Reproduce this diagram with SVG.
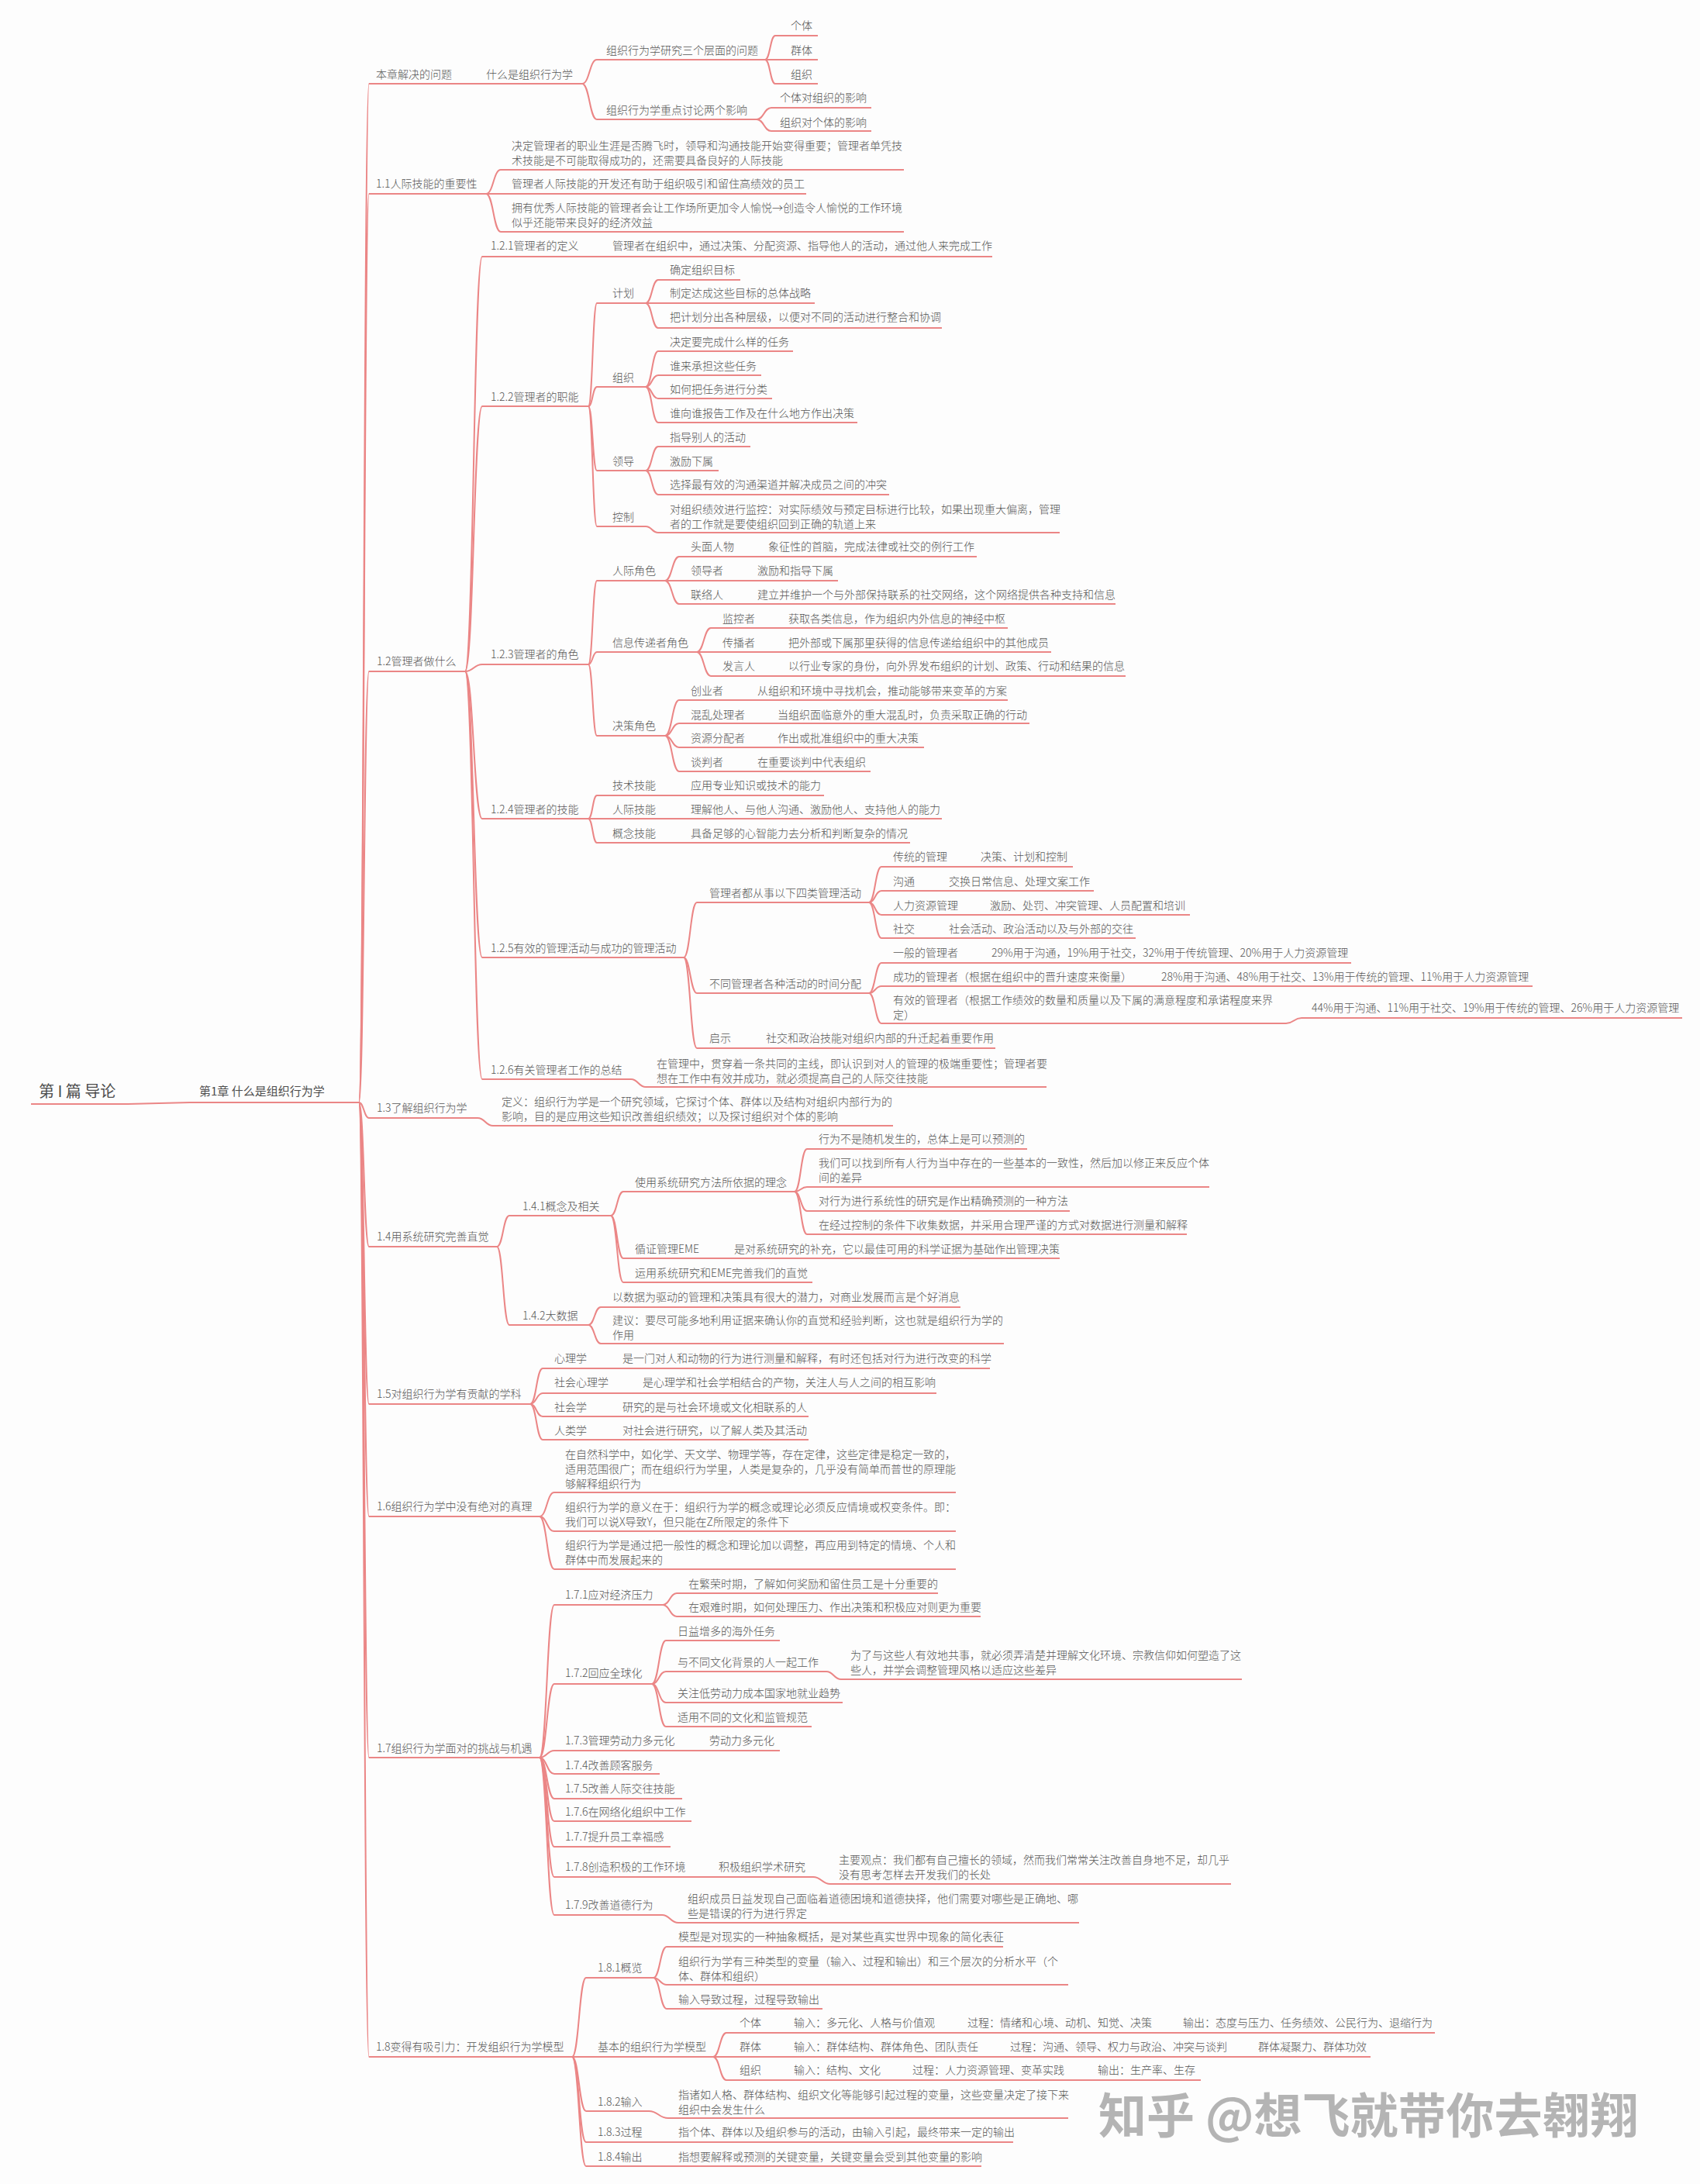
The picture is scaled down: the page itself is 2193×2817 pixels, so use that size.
<svg xmlns="http://www.w3.org/2000/svg" width="2193" height="2817" viewBox="0 0 2193 2817">
<style>
.t{font-family:"Noto Sans CJK SC","Noto Sans",sans-serif;font-size:14px;font-weight:300;fill:#555}
.u{fill:none;stroke:#eb8686;stroke-width:2}
.c{fill:none;stroke:#eb8686;stroke-width:2}
.r{font-family:"Noto Sans CJK SC","Noto Sans",sans-serif;font-size:20px;fill:#4d4d4d}
.h{font-family:"Noto Sans CJK SC","Noto Sans",sans-serif;font-size:15px;fill:#4d4d4d}
.w{font-family:"Noto Sans CJK SC","Noto Sans",sans-serif;font-size:62px;font-weight:bold;fill:#b4b4b4}
</style>
<rect width="2193" height="2817" fill="#fdfdfd"/>
<g id="connectors">
<path class="c" d="M165 1424 L245 1422"/>
<path class="c" d="M463 1422 C469.5 1422 469.5 108 476 108"/>
<path class="c" d="M463 1422 C469.5 1422 469.5 250 476 250"/>
<path class="c" d="M463 1422 C469.5 1422 469.5 866 476 866"/>
<path class="c" d="M463 1422 C469.5 1422 469.5 1442 476 1442"/>
<path class="c" d="M463 1422 C469.5 1422 469.5 1608 476 1608"/>
<path class="c" d="M463 1422 C469.5 1422 469.5 1811 476 1811"/>
<path class="c" d="M463 1422 C469.5 1422 469.5 1956 476 1956"/>
<path class="c" d="M463 1422 C469.5 1422 469.5 2267 476 2267"/>
<path class="c" d="M463 1422 C469.5 1422 469.5 2653 476 2653"/>
<path class="c" d="M614 108 L622 108"/>
<path class="c" d="M751 108 C760.5 108 760.5 77 770 77"/>
<path class="c" d="M751 108 C760.5 108 760.5 154 770 154"/>
<path class="c" d="M987 77 C993.5 77 993.5 46 1000 46"/>
<path class="c" d="M987 77 L1000 77"/>
<path class="c" d="M987 77 C993.5 77 993.5 108 1000 108"/>
<path class="c" d="M976 154 C985.5 154 985.5 139 995 139"/>
<path class="c" d="M976 154 C985.5 154 985.5 169 995 169"/>
<path class="c" d="M627 250 C636.5 250 636.5 219 646 219"/>
<path class="c" d="M627 250 L646 250"/>
<path class="c" d="M627 250 C636.5 250 636.5 299 646 299"/>
<path class="c" d="M600 866 C611 866 611 331 622 331"/>
<path class="c" d="M600 866 C611 866 611 524 622 524"/>
<path class="c" d="M600 866 C611 866 611 857 622 857"/>
<path class="c" d="M600 866 C611 866 611 1056 622 1056"/>
<path class="c" d="M600 866 C611 866 611 1235 622 1235"/>
<path class="c" d="M600 866 C611 866 611 1392 622 1392"/>
<path class="c" d="M772 331 L780 331"/>
<path class="c" d="M759 524 C764.5 524 764.5 391 770 391"/>
<path class="c" d="M759 524 C764.5 524 764.5 499 770 499"/>
<path class="c" d="M759 524 C764.5 524 764.5 607 770 607"/>
<path class="c" d="M759 524 C764.5 524 764.5 679 770 679"/>
<path class="c" d="M833 391 C841 391 841 361 849 361"/>
<path class="c" d="M833 391 L849 391"/>
<path class="c" d="M833 391 C841 391 841 423 849 423"/>
<path class="c" d="M833 499 C841 499 841 453 849 453"/>
<path class="c" d="M833 499 C841 499 841 484 849 484"/>
<path class="c" d="M833 499 C841 499 841 514 849 514"/>
<path class="c" d="M833 499 C841 499 841 545 849 545"/>
<path class="c" d="M833 607 C841 607 841 576 849 576"/>
<path class="c" d="M833 607 L849 607"/>
<path class="c" d="M833 607 C841 607 841 638 849 638"/>
<path class="c" d="M833 679 C841 679 841 687 849 687"/>
<path class="c" d="M759 857 C764.5 857 764.5 749 770 749"/>
<path class="c" d="M759 857 C764.5 857 764.5 841 770 841"/>
<path class="c" d="M759 857 C764.5 857 764.5 949 770 949"/>
<path class="c" d="M858 749 C867 749 867 718 876 718"/>
<path class="c" d="M858 749 L876 749"/>
<path class="c" d="M858 749 C867 749 867 779 876 779"/>
<path class="c" d="M958 718 L968 718"/>
<path class="c" d="M958 749 L968 749"/>
<path class="c" d="M958 779 L968 779"/>
<path class="c" d="M899 841 C908 841 908 810 917 810"/>
<path class="c" d="M899 841 L917 841"/>
<path class="c" d="M899 841 C908 841 908 872 917 872"/>
<path class="c" d="M998 810 L1008 810"/>
<path class="c" d="M998 841 L1008 841"/>
<path class="c" d="M998 872 L1008 872"/>
<path class="c" d="M858 949 C867 949 867 903 876 903"/>
<path class="c" d="M858 949 C867 949 867 933 876 933"/>
<path class="c" d="M858 949 C867 949 867 964 876 964"/>
<path class="c" d="M858 949 C867 949 867 995 876 995"/>
<path class="c" d="M958 903 L968 903"/>
<path class="c" d="M984 933 L994 933"/>
<path class="c" d="M984 964 L994 964"/>
<path class="c" d="M958 995 L968 995"/>
<path class="c" d="M759 1056 C764.5 1056 764.5 1026 770 1026"/>
<path class="c" d="M759 1056 L770 1056"/>
<path class="c" d="M759 1056 C764.5 1056 764.5 1087 770 1087"/>
<path class="c" d="M872 1026 L882 1026"/>
<path class="c" d="M872 1056 L882 1056"/>
<path class="c" d="M872 1087 L882 1087"/>
<path class="c" d="M882 1235 C890.5 1235 890.5 1164 899 1164"/>
<path class="c" d="M882 1235 C890.5 1235 890.5 1281 899 1281"/>
<path class="c" d="M882 1235 C890.5 1235 890.5 1352 899 1352"/>
<path class="c" d="M1121 1164 C1129 1164 1129 1118 1137 1118"/>
<path class="c" d="M1121 1164 C1129 1164 1129 1149 1137 1149"/>
<path class="c" d="M1121 1164 C1129 1164 1129 1180 1137 1180"/>
<path class="c" d="M1121 1164 C1129 1164 1129 1210 1137 1210"/>
<path class="c" d="M1246 1118 L1256 1118"/>
<path class="c" d="M1205 1149 L1215 1149"/>
<path class="c" d="M1258 1180 L1268 1180"/>
<path class="c" d="M1205 1210 L1215 1210"/>
<path class="c" d="M1121 1281 C1129 1281 1129 1242 1137 1242"/>
<path class="c" d="M1121 1281 C1129 1281 1129 1272 1137 1272"/>
<path class="c" d="M1121 1281 C1129 1281 1129 1320 1137 1320"/>
<path class="c" d="M1260 1242 L1270 1242"/>
<path class="c" d="M1479 1272 L1489 1272"/>
<path class="c" d="M1659 1320 C1669 1320 1669 1313 1679 1313"/>
<path class="c" d="M969 1352 L979 1352"/>
<path class="c" d="M814 1392 C823.5 1392 823.5 1402 833 1402"/>
<path class="c" d="M616 1442 C626 1442 626 1452 636 1452"/>
<path class="c" d="M641 1608 C649 1608 649 1568 657 1568"/>
<path class="c" d="M641 1608 C649 1608 649 1709 657 1709"/>
<path class="c" d="M788 1568 C796 1568 796 1537 804 1537"/>
<path class="c" d="M788 1568 C796 1568 796 1623 804 1623"/>
<path class="c" d="M788 1568 C796 1568 796 1654 804 1654"/>
<path class="c" d="M1025 1537 C1033 1537 1033 1482 1041 1482"/>
<path class="c" d="M1025 1537 C1033 1537 1033 1531 1041 1531"/>
<path class="c" d="M1025 1537 C1033 1537 1033 1562 1041 1562"/>
<path class="c" d="M1025 1537 C1033 1537 1033 1592 1041 1592"/>
<path class="c" d="M928 1623 L938 1623"/>
<path class="c" d="M759 1709 C767 1709 767 1686 775 1686"/>
<path class="c" d="M759 1709 C767 1709 767 1733 775 1733"/>
<path class="c" d="M684 1811 C692 1811 692 1765 700 1765"/>
<path class="c" d="M684 1811 C692 1811 692 1797 700 1797"/>
<path class="c" d="M684 1811 C692 1811 692 1827 700 1827"/>
<path class="c" d="M684 1811 C692 1811 692 1857 700 1857"/>
<path class="c" d="M784 1765 L794 1765"/>
<path class="c" d="M810 1797 L820 1797"/>
<path class="c" d="M784 1827 L794 1827"/>
<path class="c" d="M784 1857 L794 1857"/>
<path class="c" d="M696 1956 C705.5 1956 705.5 1925 715 1925"/>
<path class="c" d="M696 1956 C705.5 1956 705.5 1975 715 1975"/>
<path class="c" d="M696 1956 C705.5 1956 705.5 2024 715 2024"/>
<path class="c" d="M696 2267 C705.5 2267 705.5 2070 715 2070"/>
<path class="c" d="M696 2267 C705.5 2267 705.5 2172 715 2172"/>
<path class="c" d="M696 2267 C705.5 2267 705.5 2258 715 2258"/>
<path class="c" d="M696 2267 C705.5 2267 705.5 2288 715 2288"/>
<path class="c" d="M696 2267 C705.5 2267 705.5 2320 715 2320"/>
<path class="c" d="M696 2267 C705.5 2267 705.5 2349 715 2349"/>
<path class="c" d="M696 2267 C705.5 2267 705.5 2382 715 2382"/>
<path class="c" d="M696 2267 C705.5 2267 705.5 2421 715 2421"/>
<path class="c" d="M696 2267 C705.5 2267 705.5 2470 715 2470"/>
<path class="c" d="M855 2070 C864 2070 864 2055 873 2055"/>
<path class="c" d="M855 2070 C864 2070 864 2085 873 2085"/>
<path class="c" d="M841 2172 C850 2172 850 2116 859 2116"/>
<path class="c" d="M841 2172 C850 2172 850 2156 859 2156"/>
<path class="c" d="M841 2172 C850 2172 850 2196 859 2196"/>
<path class="c" d="M841 2172 C850 2172 850 2227 859 2227"/>
<path class="c" d="M1066 2156 C1075.5 2156 1075.5 2166 1085 2166"/>
<path class="c" d="M896 2258 L906 2258"/>
<path class="c" d="M905 2421 L915 2421"/>
<path class="c" d="M1049 2421 C1060 2421 1060 2430 1071 2430"/>
<path class="c" d="M854 2470 C864.5 2470 864.5 2480 875 2480"/>
<path class="c" d="M738 2653 C747 2653 747 2551 756 2551"/>
<path class="c" d="M738 2653 L756 2653"/>
<path class="c" d="M738 2653 C747 2653 747 2723 756 2723"/>
<path class="c" d="M738 2653 C747 2653 747 2763 756 2763"/>
<path class="c" d="M738 2653 C747 2653 747 2794 756 2794"/>
<path class="c" d="M843 2551 C851.5 2551 851.5 2511 860 2511"/>
<path class="c" d="M843 2551 C851.5 2551 851.5 2560 860 2560"/>
<path class="c" d="M843 2551 C851.5 2551 851.5 2591 860 2591"/>
<path class="c" d="M920 2653 C928.5 2653 928.5 2622 937 2622"/>
<path class="c" d="M920 2653 L937 2653"/>
<path class="c" d="M920 2653 C928.5 2653 928.5 2683 937 2683"/>
<path class="c" d="M1002 2622 L1012 2622"/>
<path class="c" d="M1225 2622 L1236 2622"/>
<path class="c" d="M1504 2622 L1514 2622"/>
<path class="c" d="M1002 2653 L1012 2653"/>
<path class="c" d="M1281 2653 L1291 2653"/>
<path class="c" d="M1601 2653 L1611 2653"/>
<path class="c" d="M1002 2683 L1012 2683"/>
<path class="c" d="M1155 2683 L1165 2683"/>
<path class="c" d="M1394 2683 L1404 2683"/>
<path class="c" d="M837 2723 C849.5 2723 849.5 2732 862 2732"/>
<path class="c" d="M837 2763 L862 2763"/>
<path class="c" d="M837 2794 L862 2794"/>
</g>

<g id="root"><path class="u" d="M40 1424 H165"/><text class="r" x="50" y="1415">第 I 篇 导论</text></g>
<g id="ch1"><path class="u" d="M245 1422 H463"/><text class="h" x="257" y="1413">第1章 什么是组织行为学</text></g>

<g id="s0"><path class="u" d="M476 108 H614"/><text class="t" x="485" y="101">本章解决的问题</text></g>
<g id="s0a"><path class="u" d="M622 108 H751"/><text class="t" x="627" y="101">什么是组织行为学</text></g>
<g id="s0a1"><path class="u" d="M770 77 H987"/><text class="t" x="782" y="70">组织行为学研究三个层面的问题</text></g>
<g id="s0a1a"><path class="u" d="M1000 46 H1055"/><text class="t" x="1020" y="38">个体</text></g>
<g id="s0a1b"><path class="u" d="M1000 77 H1055"/><text class="t" x="1020" y="70">群体</text></g>
<g id="s0a1c"><path class="u" d="M1000 108 H1055"/><text class="t" x="1020" y="101">组织</text></g>
<g id="s0a2"><path class="u" d="M770 154 H976"/><text class="t" x="782" y="147">组织行为学重点讨论两个影响</text></g>
<g id="s0a2a"><path class="u" d="M995 139 H1124"/><text class="t" x="1006" y="131">个体对组织的影响</text></g>
<g id="s0a2b"><path class="u" d="M995 169 H1124"/><text class="t" x="1006" y="163">组织对个体的影响</text></g>

<g id="s1"><path class="u" d="M476 250 H627"/><text class="t" x="485" y="242">1.1人际技能的重要性</text></g>
<g id="s1a"><path class="u" d="M646 219 H1166"/><text class="t" x="660" y="193">决定管理者的职业生涯是否腾飞时，领导和沟通技能开始变得重要；管理者单凭技<tspan x="660" dy="19">术技能是不可能取得成功的，还需要具备良好的人际技能</tspan></text></g>
<g id="s1b"><path class="u" d="M646 250 H1040"/><text class="t" x="660" y="242">管理者人际技能的开发还有助于组织吸引和留住高绩效的员工</text></g>
<g id="s1c"><path class="u" d="M646 299 H1166"/><text class="t" x="660" y="273">拥有优秀人际技能的管理者会让工作场所更加令人愉悦→创造令人愉悦的工作环境<tspan x="660" dy="19">似乎还能带来良好的经济效益</tspan></text></g>

<g id="s2"><path class="u" d="M476 866 H600"/><text class="t" x="486" y="858">1.2管理者做什么</text></g>
<g id="s21"><path class="u" d="M622 331 H772"/><text class="t" x="633" y="322">1.2.1管理者的定义</text></g>
<g id="s21a"><path class="u" d="M780 331 H1280"/><text class="t" x="790" y="322">管理者在组织中，通过决策、分配资源、指导他人的活动，通过他人来完成工作</text></g>
<g id="s22"><path class="u" d="M622 524 H759"/><text class="t" x="633" y="517">1.2.2管理者的职能</text></g>
<g id="s22a"><path class="u" d="M770 391 H833"/><text class="t" x="790" y="383">计划</text></g>
<g id="s22a1"><path class="u" d="M849 361 H955"/><text class="t" x="864" y="353">确定组织目标</text></g>
<g id="s22a2"><path class="u" d="M849 391 H1051"/><text class="t" x="864" y="383">制定达成这些目标的总体战略</text></g>
<g id="s22a3"><path class="u" d="M849 423 H1215"/><text class="t" x="864" y="414">把计划分出各种层级，以便对不同的活动进行整合和协调</text></g>
<g id="s22b"><path class="u" d="M770 499 H833"/><text class="t" x="790" y="492">组织</text></g>
<g id="s22b1"><path class="u" d="M849 453 H1023"/><text class="t" x="864" y="446">决定要完成什么样的任务</text></g>
<g id="s22b2"><path class="u" d="M849 484 H982"/><text class="t" x="864" y="477">谁来承担这些任务</text></g>
<g id="s22b3"><path class="u" d="M849 514 H996"/><text class="t" x="864" y="507">如何把任务进行分类</text></g>
<g id="s22b4"><path class="u" d="M849 545 H1106"/><text class="t" x="864" y="538">谁向谁报告工作及在什么地方作出决策</text></g>
<g id="s22c"><path class="u" d="M770 607 H833"/><text class="t" x="790" y="600">领导</text></g>
<g id="s22c1"><path class="u" d="M849 576 H968"/><text class="t" x="864" y="569">指导别人的活动</text></g>
<g id="s22c2"><path class="u" d="M849 607 H927"/><text class="t" x="864" y="600">激励下属</text></g>
<g id="s22c3"><path class="u" d="M849 638 H1147"/><text class="t" x="864" y="630">选择最有效的沟通渠道并解决成员之间的冲突</text></g>
<g id="s22d"><path class="u" d="M770 679 H833"/><text class="t" x="790" y="672">控制</text></g>
<g id="s22d1"><path class="u" d="M849 687 H1367"/><text class="t" x="864" y="662">对组织绩效进行监控：对实际绩效与预定目标进行比较，如果出现重大偏离，管理<tspan x="864" dy="19">者的工作就是要使组织回到正确的轨道上来</tspan></text></g>

<g id="s23"><path class="u" d="M622 857 H759"/><text class="t" x="633" y="849">1.2.3管理者的角色</text></g>
<g id="s23a"><path class="u" d="M770 749 H858"/><text class="t" x="790" y="741">人际角色</text></g>
<g id="s23a1"><path class="u" d="M876 718 H958"/><text class="t" x="891" y="710">头面人物</text></g>
<g id="s23a1x"><path class="u" d="M968 718 H1260"/><text class="t" x="991" y="710">象征性的首脑，完成法律或社交的例行工作</text></g>
<g id="s23a2"><path class="u" d="M876 749 H958"/><text class="t" x="891" y="741">领导者</text></g>
<g id="s23a2x"><path class="u" d="M968 749 H1081"/><text class="t" x="977" y="741">激励和指导下属</text></g>
<g id="s23a3"><path class="u" d="M876 779 H958"/><text class="t" x="891" y="772">联络人</text></g>
<g id="s23a3x"><path class="u" d="M968 779 H1439"/><text class="t" x="977" y="772">建立并维护一个与外部保持联系的社交网络，这个网络提供各种支持和信息</text></g>
<g id="s23b"><path class="u" d="M770 841 H899"/><text class="t" x="790" y="834">信息传递者角色</text></g>
<g id="s23b1"><path class="u" d="M917 810 H998"/><text class="t" x="932" y="803">监控者</text></g>
<g id="s23b1x"><path class="u" d="M1008 810 H1300"/><text class="t" x="1017" y="803">获取各类信息，作为组织内外信息的神经中枢</text></g>
<g id="s23b2"><path class="u" d="M917 841 H998"/><text class="t" x="932" y="834">传播者</text></g>
<g id="s23b2x"><path class="u" d="M1008 841 H1356"/><text class="t" x="1017" y="834">把外部或下属那里获得的信息传递给组织中的其他成员</text></g>
<g id="s23b3"><path class="u" d="M917 872 H998"/><text class="t" x="932" y="864">发言人</text></g>
<g id="s23b3x"><path class="u" d="M1008 872 H1452"/><text class="t" x="1017" y="864">以行业专家的身份，向外界发布组织的计划、政策、行动和结果的信息</text></g>
<g id="s23c"><path class="u" d="M770 949 H858"/><text class="t" x="790" y="941">决策角色</text></g>
<g id="s23c1"><path class="u" d="M876 903 H958"/><text class="t" x="891" y="896">创业者</text></g>
<g id="s23c1x"><path class="u" d="M968 903 H1300"/><text class="t" x="977" y="896">从组织和环境中寻找机会，推动能够带来变革的方案</text></g>
<g id="s23c2"><path class="u" d="M876 933 H984"/><text class="t" x="891" y="927">混乱处理者</text></g>
<g id="s23c2x"><path class="u" d="M994 933 H1328"/><text class="t" x="1003" y="927">当组织面临意外的重大混乱时，负责采取正确的行动</text></g>
<g id="s23c3"><path class="u" d="M876 964 H984"/><text class="t" x="891" y="957">资源分配者</text></g>
<g id="s23c3x"><path class="u" d="M994 964 H1192"/><text class="t" x="1003" y="957">作出或批准组织中的重大决策</text></g>
<g id="s23c4"><path class="u" d="M876 995 H958"/><text class="t" x="891" y="988">谈判者</text></g>
<g id="s23c4x"><path class="u" d="M968 995 H1123"/><text class="t" x="977" y="988">在重要谈判中代表组织</text></g>

<g id="s24"><path class="u" d="M622 1056 H759"/><text class="t" x="633" y="1049">1.2.4管理者的技能</text></g>
<g id="s24a"><path class="u" d="M770 1026 H872"/><text class="t" x="790" y="1018">技术技能</text></g>
<g id="s24ax"><path class="u" d="M882 1026 H1063"/><text class="t" x="891" y="1018">应用专业知识或技术的能力</text></g>
<g id="s24b"><path class="u" d="M770 1056 H872"/><text class="t" x="790" y="1049">人际技能</text></g>
<g id="s24bx"><path class="u" d="M882 1056 H1215"/><text class="t" x="891" y="1049">理解他人、与他人沟通、激励他人、支持他人的能力</text></g>
<g id="s24c"><path class="u" d="M770 1087 H872"/><text class="t" x="790" y="1080">概念技能</text></g>
<g id="s24cx"><path class="u" d="M882 1087 H1174"/><text class="t" x="891" y="1080">具备足够的心智能力去分析和判断复杂的情况</text></g>

<g id="s25"><path class="u" d="M622 1235 H882"/><text class="t" x="633" y="1228">1.2.5有效的管理活动与成功的管理活动</text></g>
<g id="s25a"><path class="u" d="M899 1164 H1121"/><text class="t" x="915" y="1157">管理者都从事以下四类管理活动</text></g>
<g id="s25a1"><path class="u" d="M1137 1118 H1246"/><text class="t" x="1152" y="1110">传统的管理</text></g>
<g id="s25a1x"><path class="u" d="M1256 1118 H1384"/><text class="t" x="1265" y="1110">决策、计划和控制</text></g>
<g id="s25a2"><path class="u" d="M1137 1149 H1205"/><text class="t" x="1152" y="1142">沟通</text></g>
<g id="s25a2x"><path class="u" d="M1215 1149 H1411"/><text class="t" x="1224" y="1142">交换日常信息、处理文案工作</text></g>
<g id="s25a3"><path class="u" d="M1137 1180 H1258"/><text class="t" x="1152" y="1173">人力资源管理</text></g>
<g id="s25a3x"><path class="u" d="M1268 1180 H1535"/><text class="t" x="1277" y="1173">激励、处罚、冲突管理、人员配置和培训</text></g>
<g id="s25a4"><path class="u" d="M1137 1210 H1205"/><text class="t" x="1152" y="1203">社交</text></g>
<g id="s25a4x"><path class="u" d="M1215 1210 H1465"/><text class="t" x="1224" y="1203">社会活动、政治活动以及与外部的交往</text></g>
<g id="s25b"><path class="u" d="M899 1281 H1121"/><text class="t" x="915" y="1274">不同管理者各种活动的时间分配</text></g>
<g id="s25b1"><path class="u" d="M1137 1242 H1260"/><text class="t" x="1152" y="1234">一般的管理者</text></g>
<g id="s25b1x"><path class="u" d="M1270 1242 H1743"/><text class="t" x="1279" y="1234">29%用于沟通，19%用于社交，32%用于传统管理、20%用于人力资源管理</text></g>
<g id="s25b2"><path class="u" d="M1137 1272 H1479"/><text class="t" x="1152" y="1265">成功的管理者（根据在组织中的晋升速度来衡量）</text></g>
<g id="s25b2x"><path class="u" d="M1489 1272 H1977"/><text class="t" x="1498" y="1265">28%用于沟通、48%用于社交、13%用于传统的管理、11%用于人力资源管理</text></g>
<g id="s25b3"><path class="u" d="M1137 1320 H1659"/><text class="t" x="1152" y="1295">有效的管理者（根据工作绩效的数量和质量以及下属的满意程度和承诺程度来界<tspan x="1152" dy="19">定）</tspan></text></g>
<g id="s25b3x"><path class="u" d="M1679 1313 H2170"/><text class="t" x="1692" y="1305">44%用于沟通、11%用于社交、19%用于传统的管理、26%用于人力资源管理</text></g>
<g id="s25c"><path class="u" d="M899 1352 H969"/><text class="t" x="915" y="1344">启示</text></g>
<g id="s25cx"><path class="u" d="M979 1352 H1284"/><text class="t" x="988" y="1344">社交和政治技能对组织内部的升迁起着重要作用</text></g>
<g id="s26"><path class="u" d="M622 1392 H814"/><text class="t" x="633" y="1385">1.2.6有关管理者工作的总结</text></g>
<g id="s26a"><path class="u" d="M833 1402 H1350"/><text class="t" x="847" y="1377">在管理中，贯穿着一条共同的主线，即认识到对人的管理的极端重要性；管理者要<tspan x="847" dy="19">想在工作中有效并成功，就必须提高自己的人际交往技能</tspan></text></g>

<g id="s3"><path class="u" d="M476 1442 H616"/><text class="t" x="486" y="1434">1.3了解组织行为学</text></g>
<g id="s3a"><path class="u" d="M636 1452 H1152"/><text class="t" x="647" y="1426">定义：组织行为学是一个研究领域，它探讨个体、群体以及结构对组织内部行为的<tspan x="647" dy="19">影响，目的是应用这些知识改善组织绩效；以及探讨组织对个体的影响</tspan></text></g>

<g id="s4"><path class="u" d="M476 1608 H641"/><text class="t" x="486" y="1600">1.4用系统研究完善直觉</text></g>
<g id="s41"><path class="u" d="M657 1568 H788"/><text class="t" x="674" y="1561">1.4.1概念及相关</text></g>
<g id="s41a"><path class="u" d="M804 1537 H1025"/><text class="t" x="819" y="1530">使用系统研究方法所依据的理念</text></g>
<g id="s41a1"><path class="u" d="M1041 1482 H1325"/><text class="t" x="1056" y="1474">行为不是随机发生的，总体上是可以预测的</text></g>
<g id="s41a2"><path class="u" d="M1041 1531 H1560"/><text class="t" x="1056" y="1505">我们可以找到所有人行为当中存在的一些基本的一致性，然后加以修正来反应个体<tspan x="1056" dy="19">间的差异</tspan></text></g>
<g id="s41a3"><path class="u" d="M1041 1562 H1380"/><text class="t" x="1056" y="1554">对行为进行系统性的研究是作出精确预测的一种方法</text></g>
<g id="s41a4"><path class="u" d="M1041 1592 H1531"/><text class="t" x="1056" y="1585">在经过控制的条件下收集数据，并采用合理严谨的方式对数据进行测量和解释</text></g>
<g id="s41b"><path class="u" d="M804 1623 H928"/><text class="t" x="819" y="1616">循证管理EME</text></g>
<g id="s41bx"><path class="u" d="M938 1623 H1367"/><text class="t" x="947" y="1616">是对系统研究的补充，它以最佳可用的科学证据为基础作出管理决策</text></g>
<g id="s41c"><path class="u" d="M804 1654 H1048"/><text class="t" x="819" y="1647">运用系统研究和EME完善我们的直觉</text></g>
<g id="s42"><path class="u" d="M657 1709 H759"/><text class="t" x="674" y="1702">1.4.2大数据</text></g>
<g id="s42a"><path class="u" d="M775 1686 H1239"/><text class="t" x="790" y="1678">以数据为驱动的管理和决策具有很大的潜力，对商业发展而言是个好消息</text></g>
<g id="s42b"><path class="u" d="M775 1733 H1295"/><text class="t" x="790" y="1708">建议：要尽可能多地利用证据来确认你的直觉和经验判断，这也就是组织行为学的<tspan x="790" dy="19">作用</tspan></text></g>

<g id="s5"><path class="u" d="M476 1811 H684"/><text class="t" x="486" y="1803">1.5对组织行为学有贡献的学科</text></g>
<g id="s5a"><path class="u" d="M700 1765 H784"/><text class="t" x="715" y="1757">心理学</text></g>
<g id="s5ax"><path class="u" d="M794 1765 H1277"/><text class="t" x="803" y="1757">是一门对人和动物的行为进行测量和解释，有时还包括对行为进行改变的科学</text></g>
<g id="s5b"><path class="u" d="M700 1797 H810"/><text class="t" x="715" y="1788">社会心理学</text></g>
<g id="s5bx"><path class="u" d="M820 1797 H1208"/><text class="t" x="829" y="1788">是心理学和社会学相结合的产物，关注人与人之间的相互影响</text></g>
<g id="s5c"><path class="u" d="M700 1827 H784"/><text class="t" x="715" y="1820">社会学</text></g>
<g id="s5cx"><path class="u" d="M794 1827 H1043"/><text class="t" x="803" y="1820">研究的是与社会环境或文化相联系的人</text></g>
<g id="s5d"><path class="u" d="M700 1857 H784"/><text class="t" x="715" y="1850">人类学</text></g>
<g id="s5dx"><path class="u" d="M794 1857 H1043"/><text class="t" x="803" y="1850">对社会进行研究，以了解人类及其活动</text></g>

<g id="s6"><path class="u" d="M476 1956 H696"/><text class="t" x="486" y="1948">1.6组织行为学中没有绝对的真理</text></g>
<g id="s6a"><path class="u" d="M715 1925 H1233"/><text class="t" x="729" y="1881">在自然科学中，如化学、天文学、物理学等，存在定律，这些定律是稳定一致的，<tspan x="729" dy="19">适用范围很广；而在组织行为学里，人类是复杂的，几乎没有简单而普世的原理能</tspan><tspan x="729" dy="19">够解释组织行为</tspan></text></g>
<g id="s6b"><path class="u" d="M715 1975 H1233"/><text class="t" x="729" y="1949">组织行为学的意义在于：组织行为学的概念或理论必须反应情境或权变条件。即：<tspan x="729" dy="19">我们可以说X导致Y，但只能在Z所限定的条件下</tspan></text></g>
<g id="s6c"><path class="u" d="M715 2024 H1233"/><text class="t" x="729" y="1998">组织行为学是通过把一般性的概念和理论加以调整，再应用到特定的情境、个人和<tspan x="729" dy="19">群体中而发展起来的</tspan></text></g>

<g id="s7"><path class="u" d="M476 2267 H696"/><text class="t" x="486" y="2260">1.7组织行为学面对的挑战与机遇</text></g>
<g id="s71"><path class="u" d="M715 2070 H855"/><text class="t" x="729" y="2062">1.7.1应对经济压力</text></g>
<g id="s71a"><path class="u" d="M873 2055 H1210"/><text class="t" x="888" y="2048">在繁荣时期，了解如何奖励和留住员工是十分重要的</text></g>
<g id="s71b"><path class="u" d="M873 2085 H1265"/><text class="t" x="888" y="2078">在艰难时期，如何处理压力、作出决策和积极应对则更为重要</text></g>
<g id="s72"><path class="u" d="M715 2172 H841"/><text class="t" x="729" y="2163">1.7.2回应全球化</text></g>
<g id="s72a"><path class="u" d="M859 2116 H1006"/><text class="t" x="874" y="2109">日益增多的海外任务</text></g>
<g id="s72b"><path class="u" d="M859 2156 H1066"/><text class="t" x="874" y="2149">与不同文化背景的人一起工作</text></g>
<g id="s72b1"><path class="u" d="M1085 2166 H1602"/><text class="t" x="1097" y="2140">为了与这些人有效地共事，就必须弄清楚并理解文化环境、宗教信仰如何塑造了这<tspan x="1097" dy="19">些人，并学会调整管理风格以适应这些差异</tspan></text></g>
<g id="s72c"><path class="u" d="M859 2196 H1087"/><text class="t" x="874" y="2189">关注低劳动力成本国家地就业趋势</text></g>
<g id="s72d"><path class="u" d="M859 2227 H1047"/><text class="t" x="874" y="2220">适用不同的文化和监管规范</text></g>
<g id="s73"><path class="u" d="M715 2258 H896"/><text class="t" x="729" y="2250">1.7.3管理劳动力多元化</text></g>
<g id="s73a"><path class="u" d="M906 2258 H1006"/><text class="t" x="915" y="2250">劳动力多元化</text></g>
<g id="s74"><path class="u" d="M715 2288 H851"/><text class="t" x="729" y="2282">1.7.4改善顾客服务</text></g>
<g id="s75"><path class="u" d="M715 2320 H880"/><text class="t" x="729" y="2312">1.7.5改善人际交往技能</text></g>
<g id="s76"><path class="u" d="M715 2349 H892"/><text class="t" x="729" y="2342">1.7.6在网络化组织中工作</text></g>
<g id="s77"><path class="u" d="M715 2382 H865"/><text class="t" x="729" y="2374">1.7.7提升员工幸福感</text></g>
<g id="s78"><path class="u" d="M715 2421 H905"/><text class="t" x="729" y="2413">1.7.8创造积极的工作环境</text></g>
<g id="s78a"><path class="u" d="M915 2421 H1049"/><text class="t" x="927" y="2413">积极组织学术研究</text></g>
<g id="s78b"><path class="u" d="M1071 2430 H1588"/><text class="t" x="1082" y="2404">主要观点：我们都有自己擅长的领域，然而我们常常关注改善自身地不足，却几乎<tspan x="1082" dy="19">没有思考怎样去开发我们的长处</tspan></text></g>
<g id="s79"><path class="u" d="M715 2470 H854"/><text class="t" x="729" y="2462">1.7.9改善道德行为</text></g>
<g id="s79a"><path class="u" d="M875 2480 H1392"/><text class="t" x="887" y="2454">组织成员日益发现自己面临着道德困境和道德抉择，他们需要对哪些是正确地、哪<tspan x="887" dy="19">些是错误的行为进行界定</tspan></text></g>

<g id="s8"><path class="u" d="M476 2653 H738"/><text class="t" x="485" y="2645">1.8变得有吸引力：开发组织行为学模型</text></g>
<g id="s81"><path class="u" d="M756 2551 H843"/><text class="t" x="771" y="2543">1.8.1概览</text></g>
<g id="s81a"><path class="u" d="M860 2511 H1294"/><text class="t" x="875" y="2503">模型是对现实的一种抽象概括，是对某些真实世界中现象的简化表征</text></g>
<g id="s81b"><path class="u" d="M860 2560 H1378"/><text class="t" x="875" y="2535">组织行为学有三种类型的变量（输入、过程和输出）和三个层次的分析水平（个<tspan x="875" dy="19">体、群体和组织）</tspan></text></g>
<g id="s81c"><path class="u" d="M860 2591 H1061"/><text class="t" x="875" y="2584">输入导致过程，过程导致输出</text></g>
<g id="s8m"><path class="u" d="M756 2653 H920"/><text class="t" x="771" y="2645">基本的组织行为学模型</text></g>
<g id="s8m1"><path class="u" d="M937 2622 H1002"/><text class="t" x="954" y="2614">个体</text></g>
<g id="s8m1a"><path class="u" d="M1012 2622 H1225"/><text class="t" x="1024" y="2614">输入：多元化、人格与价值观</text></g>
<g id="s8m1b"><path class="u" d="M1236 2622 H1504"/><text class="t" x="1248" y="2614">过程：情绪和心境、动机、知觉、决策</text></g>
<g id="s8m1c"><path class="u" d="M1514 2622 H1851"/><text class="t" x="1526" y="2614">输出：态度与压力、任务绩效、公民行为、退缩行为</text></g>
<g id="s8m2"><path class="u" d="M937 2653 H1002"/><text class="t" x="954" y="2645">群体</text></g>
<g id="s8m2a"><path class="u" d="M1012 2653 H1281"/><text class="t" x="1024" y="2645">输入：群体结构、群体角色、团队责任</text></g>
<g id="s8m2b"><path class="u" d="M1291 2653 H1601"/><text class="t" x="1303" y="2645">过程：沟通、领导、权力与政治、冲突与谈判</text></g>
<g id="s8m2c"><path class="u" d="M1611 2653 H1768"/><text class="t" x="1623" y="2645">群体凝聚力、群体功效</text></g>
<g id="s8m3"><path class="u" d="M937 2683 H1002"/><text class="t" x="954" y="2675">组织</text></g>
<g id="s8m3a"><path class="u" d="M1012 2683 H1155"/><text class="t" x="1024" y="2675">输入：结构、文化</text></g>
<g id="s8m3b"><path class="u" d="M1165 2683 H1394"/><text class="t" x="1177" y="2675">过程：人力资源管理、变革实践</text></g>
<g id="s8m3c"><path class="u" d="M1404 2683 H1549"/><text class="t" x="1416" y="2675">输出：生产率、生存</text></g>
<g id="s82"><path class="u" d="M756 2723 H837"/><text class="t" x="771" y="2716">1.8.2输入</text></g>
<g id="s82a"><path class="u" d="M862 2732 H1378"/><text class="t" x="875" y="2707">指诸如人格、群体结构、组织文化等能够引起过程的变量，这些变量决定了接下来<tspan x="875" dy="19">组织中会发生什么</tspan></text></g>
<g id="s83"><path class="u" d="M756 2763 H837"/><text class="t" x="771" y="2755">1.8.3过程</text></g>
<g id="s83a"><path class="u" d="M862 2763 H1307"/><text class="t" x="875" y="2755">指个体、群体以及组织参与的活动，由输入引起，最终带来一定的输出</text></g>
<g id="s84"><path class="u" d="M756 2794 H837"/><text class="t" x="771" y="2787">1.8.4输出</text></g>
<g id="s84a"><path class="u" d="M862 2794 H1266"/><text class="t" x="875" y="2787">指想要解释或预测的关键变量，关键变量会受到其他变量的影响</text></g>

<text class="w" x="1417" y="2752">知乎 @想飞就带你去翱翔</text>
</svg>
